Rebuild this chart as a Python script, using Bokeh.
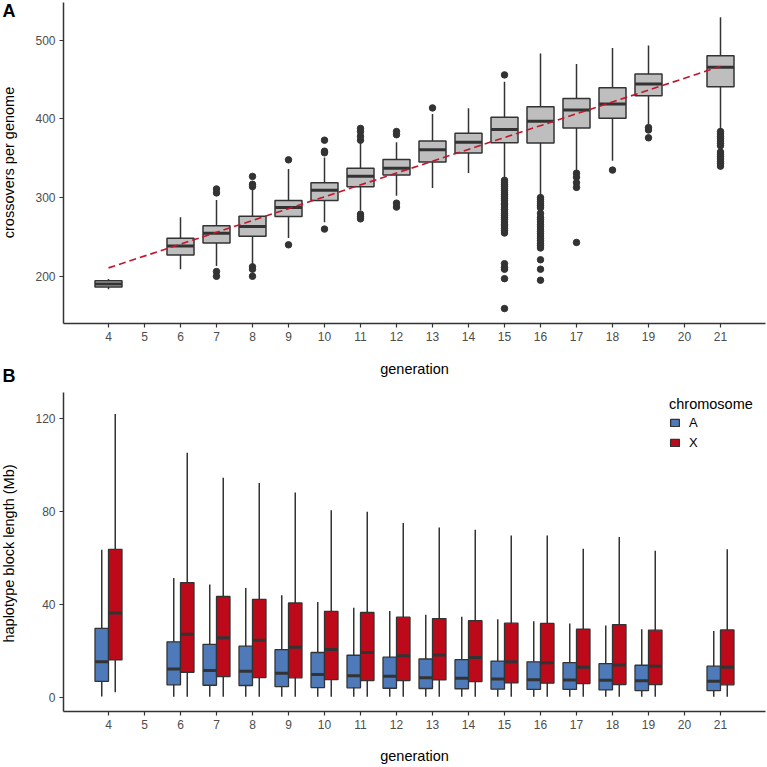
import math
from bokeh.plotting import figure
from bokeh.models import ColumnDataSource, FixedTicker, Label, Legend, LegendItem, Range1d
from bokeh.layouts import column
from bokeh.embed import file_html
from bokeh.resources import INLINE

# ---------------- data: panel A (crossovers per genome) ----------------
gens = [4, 6, 7, 8, 9, 10, 11, 12, 13, 14, 15, 16, 17, 18, 19, 21]
co_lw = [183.5, 208.9, 213.0, 215.0, 248.8, 268.6, 283.5, 302.5, 312.3, 331.4, 323.8, 302.5, 333.4, 347.0, 393.6, 385.1]
co_q1 = [186.5, 227.2, 242.4, 250.8, 275.9, 296.2, 313.9, 328.8, 345.4, 356.8, 369.8, 369.5, 388.5, 400.8, 429.6, 441.0]
co_med = [190.3, 238.6, 254.6, 263.2, 287.3, 309.3, 327.1, 337.2, 361.0, 370.3, 386.7, 397.0, 411.4, 419.1, 444.5, 465.6]
co_q3 = [194.2, 248.3, 264.4, 276.2, 296.2, 319.0, 337.2, 348.3, 372.0, 381.7, 402.0, 415.6, 426.1, 439.8, 457.2, 480.2]
co_uw = [196.7, 275.0, 297.0, 312.0, 336.5, 351.0, 370.0, 370.3, 406.3, 413.5, 447.4, 483.3, 469.9, 490.2, 493.5, 529.1]

out_7 = [311, 306, 206, 200]
out_8 = [327, 317, 314, 212, 209, 200]
out_9 = [348, 240]
out_10 = [373, 359, 357, 260]
out_11 = [388, 384, 378, 373, 279, 276, 273]
out_12 = [384, 380, 293, 288]
out_13 = [414]
out_15 = [456, 322, 319, 317, 314, 312, 309, 306, 304, 301, 299, 296, 293, 291, 288, 285, 283,
          280, 277, 275, 272, 269, 266, 264, 261, 258, 255, 216, 211, 209, 197, 159]
out_16 = [300, 298, 295, 292, 290, 287, 280, 275, 272, 269, 266, 263, 260, 257, 254, 251, 248,
          245, 242, 239, 236, 221, 209, 195]
out_17 = [331, 326, 319, 313, 243]
out_18 = [335]
out_19 = [389, 386, 376]
out_21 = [384, 381, 378, 375, 372, 369, 366, 358, 355, 352, 349, 346, 343, 340]
outliers = {7: out_7, 8: out_8, 9: out_9, 10: out_10, 11: out_11, 12: out_12, 13: out_13,
            15: out_15, 16: out_16, 17: out_17, 18: out_18, 19: out_19, 21: out_21}

trend_gen = [4, 21]
trend_val = [210.7, 466.8]

# ---------------- data: panel B (haplotype block length) ----------------
a_lw = [0.3, 0.2, 0.2, 0.2, 0.2, 0.2, 0.2, 0.2, 0.2, 0.2, 0.2, 0.2, 0.2, 0.2, 0.2, 0.2]
a_q1 = [6.8, 5.3, 5.1, 5.0, 4.5, 4.1, 4.0, 3.8, 3.7, 3.6, 3.4, 3.3, 3.3, 3.1, 2.8, 2.8]
a_med = [15.2, 12.1, 11.4, 11.1, 10.3, 9.7, 9.2, 9.0, 8.3, 8.1, 7.8, 7.5, 7.4, 7.3, 7.0, 6.8]
a_q3 = [29.6, 23.8, 22.7, 21.9, 20.4, 19.2, 18.0, 17.2, 16.4, 16.1, 15.5, 15.2, 14.8, 14.4, 13.7, 13.3]
a_uw = [63.4, 51.3, 48.5, 47.0, 43.8, 40.9, 38.5, 37.1, 35.4, 34.6, 33.5, 32.6, 31.7, 30.8, 29.2, 28.4]

x_lw = [2.1, 0.2, 0.2, 0.2, 0.2, 0.2, 0.2, 0.2, 0.2, 0.2, 0.2, 0.2, 0.2, 0.2, 0.2, 0.2]
x_q1 = [16.0, 10.7, 8.8, 8.4, 8.3, 7.5, 7.1, 7.1, 7.4, 6.7, 6.1, 6.0, 5.8, 5.4, 5.4, 5.3]
x_med = [36.2, 27.1, 25.5, 24.5, 21.4, 20.5, 19.2, 17.8, 18.1, 17.0, 15.2, 14.8, 12.8, 13.8, 13.3, 12.8]
x_q3 = [63.6, 49.3, 43.3, 42.1, 40.5, 36.9, 36.4, 34.4, 33.8, 32.9, 31.8, 31.7, 29.2, 31.2, 28.8, 28.9]
x_uw = [121.9, 105.2, 94.4, 92.1, 88.1, 80.4, 79.8, 74.9, 73.0, 72.0, 69.6, 69.6, 63.9, 68.9, 63.0, 63.6]

chrom_labels = ["A", "X"]
x_ticks = list(range(4, 22))
ya_ticks = [200, 300, 400, 500]
yb_ticks = [0, 40, 80, 120]

# ---------------- styling ----------------
FONT = "Liberation Sans"
BOX_W = 0.75
GREY = "#bebebe"
DARK = "#333333"
BLUE = "#4e7ab9"
RED = "#bd0a1a"

W = 767
FL = 63           # frame left border
FW = 702          # frame width
XR = (2.75, 2.75 + FW / 36.0)
TITLE_SIZE = "14.5px"


def style(p, yticks):
    p.xgrid.visible = False
    p.ygrid.visible = False
    p.outline_line_color = None
    p.background_fill_color = "white"
    p.border_fill_color = "white"
    p.xaxis.ticker = FixedTicker(ticks=x_ticks)
    p.yaxis.ticker = FixedTicker(ticks=yticks)
    for ax in (p.xaxis[0], p.yaxis[0]):
        ax.axis_line_color = DARK
        ax.axis_line_width = 1.5
        ax.major_tick_line_color = DARK
        ax.major_tick_line_width = 1.2
        ax.major_tick_out = 4
        ax.major_tick_in = 0
        ax.minor_tick_line_color = None
        ax.major_label_text_font = FONT
        ax.major_label_text_font_size = "12px"
        ax.major_label_text_color = "#4d4d4d"
        ax.major_label_standoff = 4
        ax.axis_label_text_font = FONT
        ax.axis_label_text_font_size = TITLE_SIZE
        ax.axis_label_text_font_style = "normal"
        ax.axis_label_text_color = "black"


def side_text(p, place, text, x, y, **kw):
    opts = dict(text_font=FONT, text_font_size=TITLE_SIZE, text_color="black")
    opts.update(kw)
    p.add_layout(Label(x=x, y=y, x_units="screen", y_units="screen", text=text, **opts), place)


# ---------------- panel A ----------------
FH_A = 321
pA = figure(width=W, height=357, output_backend="svg", toolbar_location=None,
            x_range=Range1d(*XR), y_range=Range1d(140, 548),
            min_border_left=FL, min_border_right=W - FL - FW, min_border_top=2, min_border_bottom=34)
style(pA, ya_ticks)

srcA = ColumnDataSource(dict(
    x=gens, lw=co_lw, q1=co_q1, med=co_med, q3=co_q3, uw=co_uw,
    xl=[g - BOX_W / 2 for g in gens], xr=[g + BOX_W / 2 for g in gens]))
pA.segment(x0="x", x1="x", y0="lw", y1="uw", source=srcA, line_color=DARK, line_width=1.5)
pA.vbar(x="x", width=BOX_W, bottom="q1", top="q3", source=srcA,
        fill_color=GREY, line_color=DARK, line_width=1.5)
pA.segment(x0="xl", x1="xr", y0="med", y1="med", source=srcA, line_color=DARK, line_width=3)

ox, oy = [], []
for g, vals in outliers.items():
    ox += [g] * len(vals)
    oy += vals
pA.scatter(ox, oy, size=6.5, fill_color=DARK, line_color=DARK)
pA.line(trend_gen, trend_val, line_color="#c4142c", line_width=1.6, line_dash="7 4")

# y title (rotated) and panel letter, both in the left border
side_text(pA, "left", "crossovers per genome", -8, 161, angle=math.pi / 2,
          text_align="center", text_baseline="middle")
side_text(pA, "left", "A", -1, FH_A + 2, text_font_size="18px", text_font_style="bold",
          text_baseline="top", text_align="left")

# ---------------- panel B ----------------
yb0, yb1 = -6.2, 131.1
FH_B = 319
pB = figure(width=W, height=410, output_backend="svg", toolbar_location=None,
            x_range=Range1d(*XR), y_range=Range1d(yb0, yb1),
            min_border_left=FL, min_border_right=W - FL - FW, min_border_top=35, min_border_bottom=56)
style(pB, yb_ticks)
pB.xaxis.axis_label = "generation"
pB.xaxis.axis_label_standoff = 16

half = BOX_W / 2
renderers = []
for lab, off, col, lw, q1, med, q3, uw in [
        ("A", -half / 2, BLUE, a_lw, a_q1, a_med, a_q3, a_uw),
        ("X", half / 2, RED, x_lw, x_q1, x_med, x_q3, x_uw)]:
    xs = [g + off for g in gens]
    src = ColumnDataSource(dict(
        x=xs, lw=lw, q1=q1, med=med, q3=q3, uw=uw,
        xl=[v - half / 2 for v in xs], xr=[v + half / 2 for v in xs]))
    pB.segment(x0="x", x1="x", y0="lw", y1="uw", source=src, line_color=DARK, line_width=1.5)
    r = pB.vbar(x="x", width=half, bottom="q1", top="q3", source=src,
                fill_color=col, line_color=DARK, line_width=1.3)
    pB.segment(x0="xl", x1="xr", y0="med", y1="med", source=src, line_color=DARK, line_width=3)
    renderers.append(r)

legend = Legend(items=[LegendItem(label=chrom_labels[i], renderers=[renderers[i]]) for i in range(2)],
                title="chromosome", location=(606, 261), orientation="vertical")
legend.title_text_font = FONT
legend.title_text_font_size = TITLE_SIZE
legend.title_text_font_style = "normal"
legend.title_text_color = "black"
legend.title_standoff = 3
legend.label_text_font = FONT
legend.label_text_font_size = "13px"
legend.label_text_color = "black"
legend.label_height = 14
legend.label_standoff = 9
legend.glyph_width = 11
legend.glyph_height = 9
legend.spacing = 5
legend.padding = 2
legend.margin = 0
legend.border_line_color = None
legend.background_fill_alpha = 0
pB.add_layout(legend)

# x title of panel A (sits in the gap above panel B)
side_text(pB, "above", "generation", FW / 2, 24, text_align="center", text_baseline="middle")
side_text(pB, "left", "haplotype block length (Mb)", -8, 158, angle=math.pi / 2,
          text_align="center", text_baseline="middle")
side_text(pB, "left", "B", -1, FH_B + 27, text_font_size="18px", text_font_style="bold",
          text_baseline="top", text_align="left")

layout = column(pA, pB, spacing=0)
open("out.html", "w").write(file_html(layout, INLINE))
